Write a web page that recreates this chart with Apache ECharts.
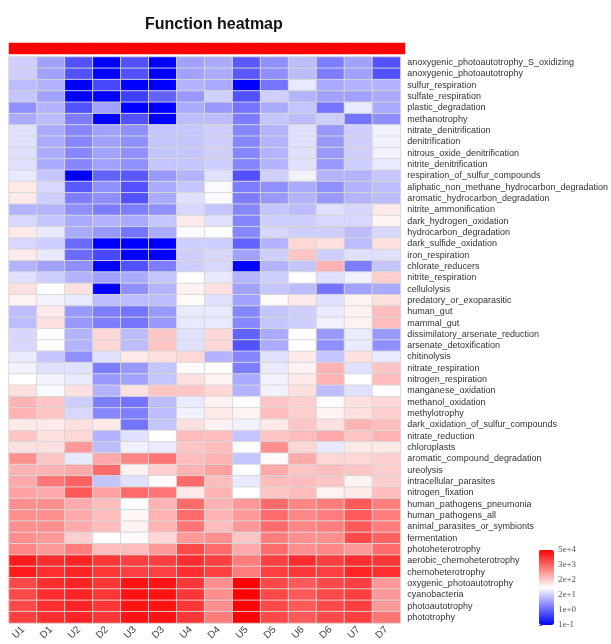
<!DOCTYPE html>
<html>
<head>
<meta charset="utf-8">
<script src="https://cdn.jsdelivr.net/npm/echarts@6/dist/echarts.min.js"></script>
<style>html,body{margin:0;padding:0;background:#fff}#c{width:611px;height:644px}</style>
</head>
<body>
<div id="c"></div>
<script>
// Samples (columns)
const samples = ['U1','D1','U2','D2','U3','D3','U4','D4','U5','D5','U6','D6','U7','D7'];
// Functions (rows, top to bottom)
const functions = [
 'anoxygenic_photoautotrophy_S_oxidizing','anoxygenic_photoautotrophy','sulfur_respiration','sulfate_respiration',
 'plastic_degradation','methanotrophy','nitrate_denitrification','denitrification','nitrous_oxide_denitrification',
 'nitrite_denitrification','respiration_of_sulfur_compounds','aliphatic_non_methane_hydrocarbon_degradation',
 'aromatic_hydrocarbon_degradation','nitrite_ammonification','dark_hydrogen_oxidation','hydrocarbon_degradation',
 'dark_sulfide_oxidation','iron_respiration','chlorate_reducers','nitrite_respiration','cellulolysis',
 'predatory_or_exoparasitic','human_gut','mammal_gut','dissimilatory_arsenate_reduction','arsenate_detoxification',
 'chitinolysis','nitrate_respiration','nitrogen_respiration','manganese_oxidation','methanol_oxidation',
 'methylotrophy','dark_oxidation_of_sulfur_compounds','nitrate_reduction','chloroplasts',
 'aromatic_compound_degradation','ureolysis','intracellular_parasites','nitrogen_fixation',
 'human_pathogens_pneumonia','human_pathogens_all','animal_parasites_or_symbionts','fermentation',
 'photoheterotrophy','aerobic_chemoheterotrophy','chemoheterotrophy','oxygenic_photoautotrophy',
 'cyanobacteria','photoautotrophy','phototrophy'
];
// Sample group annotation (single group)
const sampleGroup = ['G','G','G','G','G','G','G','G','G','G','G','G','G','G'];
// Colour-key tick labels (bottom to top)
const legendTicks = ['1e-1','1e+0','2e+1','2e+2','3e+3','5e+4'];
const logMin = -1, logMax = 4.7;
// log10 abundance per function (rows) x sample (columns)
const logValues = [
 [1.3,0.8,-0.1,-1,-0.1,-1,0.8,0.9,0,0.6,1.1,0.4,0.8,-0.1],
 [1.3,0.8,-0.1,-1,-0.1,-1,0.8,0.9,0,0.6,1.1,0.4,0.8,-0.1],
 [1.1,1.0,-1,-0.2,-1,-1,1.0,0.9,-1,0.3,1.6,0.9,1.0,1.0],
 [1.2,0.8,-1,-1,-0.3,0.1,0.7,1.3,-0.1,1.3,1.0,0.8,0.8,0.9],
 [0.6,1.0,-0.1,0.8,-1,-1,0.9,0.7,0.3,0.9,1.2,0.3,1.6,0.9],
 [0.9,1.1,0.4,-1,-0.1,-1,1.1,1.1,0.4,1.2,1.1,1.3,0.3,0.6],
 [1.5,0.9,0.5,0.8,0.6,1.2,1.2,1.3,0.5,1.0,1.5,0.7,1.3,1.7],
 [1.5,0.9,0.5,0.8,0.6,1.2,1.2,1.3,0.5,1.0,1.5,0.7,1.3,1.7],
 [1.5,0.9,0.5,0.8,0.6,1.2,1.2,1.3,0.5,1.0,1.5,0.7,1.3,1.7],
 [1.5,0.9,0.5,0.8,0.6,1.2,1.2,1.3,0.5,1.0,1.5,0.7,1.3,1.6],
 [1.6,1.2,-1,0.1,0,0.7,1.0,1.5,-0.1,1.3,1.7,1.0,1.0,1.2],
 [2.1,1.4,0,0.6,-0.1,0.9,1.2,1.8,0.4,0.6,0.9,0.6,1.0,1.1],
 [2.1,1.3,0.4,0.6,-0.1,0.9,1.5,1.8,0.4,0.7,1.0,0.7,1.0,1.1],
 [1.0,1.0,0.6,0.4,0.4,0.6,1.4,1.2,0.5,1.2,1.1,1.5,1.4,2.1],
 [1.4,1.2,0.9,1.0,0.9,1.2,2.1,1.5,0.5,1.3,1.3,1.4,1.4,2.0],
 [2.1,1.6,0.9,0.7,0.3,0.9,1.8,1.85,0.5,1.4,1.3,1.3,1.1,1.4],
 [1.4,1.3,0.2,-1,-1,-1,1.3,1.3,0.1,1.0,2.3,2.2,1.1,2.2],
 [2.1,1.6,0.2,-0.2,-1,-1,1.3,1.4,0.8,1.3,2.5,1.3,1.5,1.5],
 [1.0,0.8,0.6,-1,-0.1,0.4,1.3,1.4,-1,1.0,1.2,2.7,0.4,1.2],
 [1.5,1.3,1.0,0.8,0.9,1.2,1.85,1.6,1.0,1.3,1.85,1.5,1.7,2.4],
 [2.2,1.85,2.2,-1,0.6,1.0,2.0,2.2,0.8,1.2,1.1,0.3,0.8,0.9],
 [2.0,1.7,1.6,1.1,1.1,1.1,1.9,1.5,0.8,1.9,2.1,1.5,2.0,2.2],
 [1.1,2.1,0.7,0.4,0.3,0.7,1.6,1.6,0.5,1.2,1.3,1.6,2.0,2.6],
 [1.1,2.2,0.7,0.4,0.3,0.7,1.6,1.6,0.5,1.2,1.3,1.7,2.0,2.6],
 [1.4,1.85,1.0,2.3,1.1,2.5,1.5,2.3,0.1,0.9,1.85,0.7,1.6,0.7],
 [1.4,1.9,1.0,2.3,1.1,2.5,1.5,2.3,-0.1,0.9,1.85,0.6,1.6,0.6],
 [1.6,1.2,0.6,1.5,2.1,2.2,2.3,1.0,0.5,1.5,2.1,1.2,2.2,1.6],
 [1.7,1.5,1.5,0.4,0.7,1.2,1.9,1.85,0.4,1.6,2.0,2.7,1.5,2.5],
 [1.85,1.7,1.6,0.7,0.8,1.2,2.2,2.0,0.9,1.7,2.1,2.7,1.85,2.6],
 [2.2,1.8,2.2,1.0,2.2,2.5,2.5,2.3,1.0,1.7,2.2,1.1,1.5,1.85],
 [2.7,2.5,1.3,0.4,0.3,1.1,1.6,2.0,1.9,2.5,2.4,1.9,2.2,2.3],
 [2.7,2.5,1.4,0.5,0.4,1.1,1.7,2.1,2.0,2.6,2.4,2.0,2.2,2.4],
 [2.1,2.1,2.2,2.1,0.3,1.2,2.2,2.0,1.7,2.1,2.5,2.2,2.7,2.6],
 [2.5,2.2,2.3,1.0,1.5,1.85,2.6,2.6,1.2,2.5,2.6,2.8,2.5,2.7],
 [2.2,2.2,3.0,1.1,1.7,1.6,2.5,2.6,1.85,3.1,2.3,1.6,2.1,2.1],
 [3.1,2.5,1.6,2.8,3.2,3.4,2.6,2.7,1.2,1.9,2.8,2.3,2.3,2.4],
 [2.7,2.7,2.8,3.5,2.0,2.4,2.7,2.9,1.85,2.8,2.5,2.6,2.5,2.4],
 [2.8,3.4,3.6,1.2,1.5,1.9,3.5,2.6,1.6,2.6,2.6,2.5,2.0,2.4],
 [2.9,2.8,3.7,2.9,3.5,3.4,2.1,2.7,1.85,2.5,2.6,2.0,2.1,2.6],
 [3.1,3.1,2.8,2.6,1.85,2.7,3.5,2.7,3.0,3.5,3.2,3.3,3.7,3.3],
 [3.1,3.1,2.8,2.6,1.95,2.7,3.5,2.7,3.0,3.5,3.2,3.3,3.7,3.3],
 [3.1,3.1,2.8,2.6,2.0,2.7,3.4,2.6,3.0,3.5,3.2,3.3,3.7,3.3],
 [3.1,3.0,2.4,1.85,1.9,2.3,3.0,3.1,2.5,3.3,3.1,3.1,3.9,3.6],
 [3.2,3.0,3.3,2.6,2.6,3.0,3.9,3.5,2.8,3.5,3.1,3.2,3.0,3.5],
 [4.4,4.2,4.3,4.1,4.0,4.0,4.2,4.0,3.3,4.0,4.2,4.0,4.2,4.1],
 [4.4,4.2,4.3,4.1,4.0,4.0,4.2,4.0,3.3,4.0,4.1,4.0,4.3,4.2],
 [3.9,4.2,4.3,4.1,4.5,4.5,4.1,3.1,4.7,3.9,3.7,3.9,4.0,3.0],
 [3.9,4.2,4.3,4.1,4.5,4.5,4.1,3.1,4.7,3.9,3.7,3.9,4.0,3.0],
 [3.9,4.2,4.3,4.1,4.5,4.5,4.1,3.1,4.7,3.9,3.7,3.9,4.0,3.0],
 [4.0,4.2,4.3,4.1,4.5,4.5,4.1,3.3,4.7,3.9,3.7,3.9,4.0,3.4]
];

const heatData = [];
logValues.forEach((row, r) => row.forEach((v, c) => heatData.push([c, r, v])));
const annoData = sampleGroup.map((g, c) => ({value: [c, 0, 1], name: g}));

const font = 'Liberation Sans, Arial, sans-serif';
const chart = echarts.init(document.getElementById('c'), null, {renderer: 'canvas'});
chart.setOption({
  backgroundColor: '#ffffff',
  animation: false,
  title: {
    text: 'Function heatmap', left: 140, top: 12,
    textStyle: {fontFamily: font, fontSize: 16, fontWeight: 'bold', color: '#111'}
  },
  grid: [
    {left: 9, top: 57, width: 396, height: 566},
    {left: 9, top: 43, width: 396, height: 11},
    {left: 539, top: 550, width: 15, height: 75}
  ],
  xAxis: [
    {gridIndex: 0, type: 'category', data: samples, position: 'bottom',
     axisLine: {show: false}, axisTick: {show: false}, splitLine: {show: false},
     axisLabel: {rotate: 45, fontSize: 10, color: '#444', margin: 5, fontFamily: font, interval: 0}},
    {gridIndex: 1, type: 'category', data: samples, show: false},
    {gridIndex: 2, type: 'value', show: false}
  ],
  yAxis: [
    {gridIndex: 0, type: 'category', data: functions, inverse: true, position: 'right',
     axisLine: {show: false}, axisTick: {show: false}, splitLine: {show: false},
     axisLabel: {fontSize: 9, color: '#333', margin: 7, fontFamily: font, interval: 0}},
    {gridIndex: 1, type: 'category', data: ['group'], show: false},
    {gridIndex: 2, type: 'category', data: legendTicks, boundaryGap: false, position: 'right',
     axisLine: {show: false}, axisTick: {show: true, length: 3, lineStyle: {color: '#777'}},
     axisLabel: {fontSize: 9, color: '#555', margin: 4, fontFamily: 'Liberation Serif, serif', interval: 0}}
  ],
  visualMap: {
    type: 'continuous', min: logMin, max: logMax, seriesIndex: 0,
    left: 539, top: 550, itemWidth: 15, itemHeight: 75, padding: 0,
    calculable: false, realtime: false, hoverLink: false,
    inRange: {color: ['#0000FF', '#FFFFFF', '#FF0000']},
    textStyle: {color: 'transparent'}
  },
  series: [
    {type: 'heatmap', xAxisIndex: 0, yAxisIndex: 0, data: heatData,
     itemStyle: {borderColor: 'rgba(215,215,215,0.9)', borderWidth: 1},
     emphasis: {disabled: true}},
    {type: 'heatmap', xAxisIndex: 1, yAxisIndex: 1, data: annoData,
     itemStyle: {color: '#FF0000', borderWidth: 0},
     emphasis: {disabled: true}}
  ]
});
</script>
</body>
</html>
